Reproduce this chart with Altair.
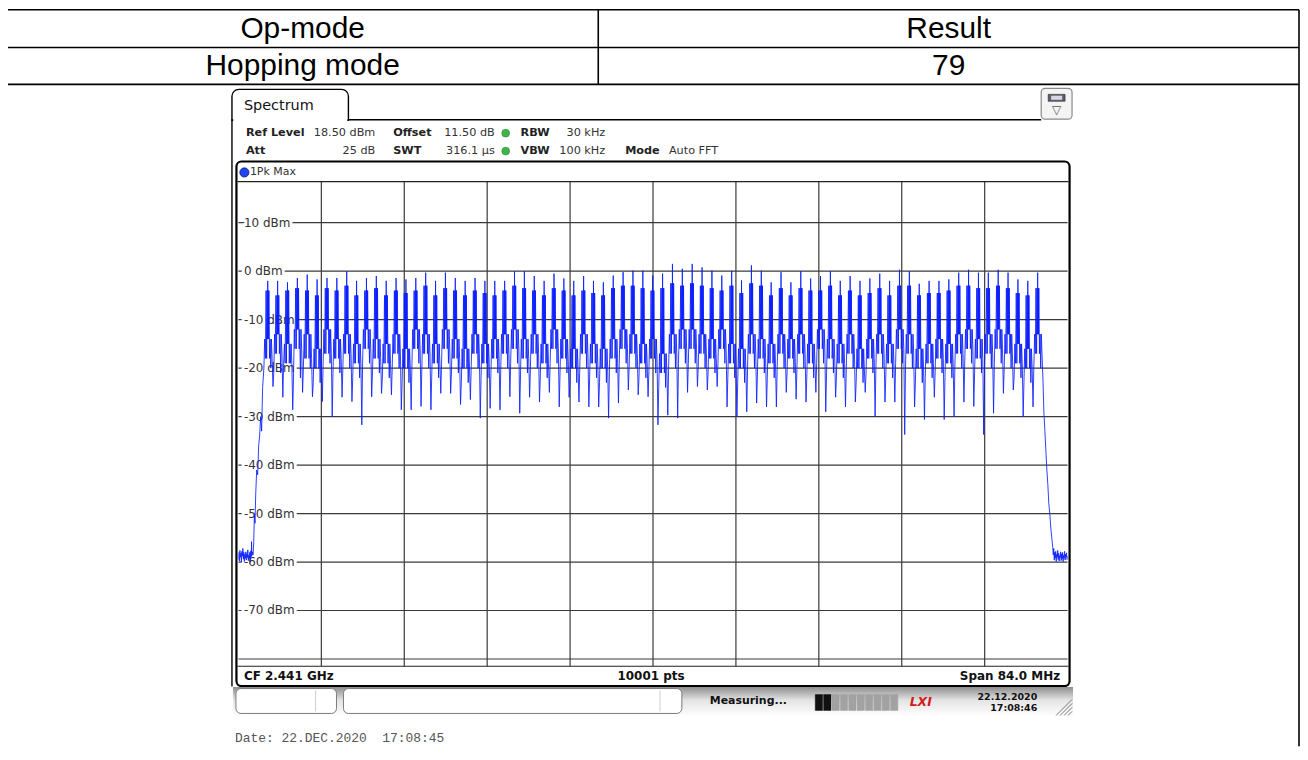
import altair as alt
import pandas as pd

# ------------------------------------------------------------------ data
table_cells = [["Op-mode", "Result"], ["Hopping mode", "79"]]

f_start_mhz = 2399.0
f_stop_mhz = 2483.0
ref_level_dbm = 18.5
bottom_dbm = -81.5

grid_mhz = [2407.4, 2415.8, 2424.2, 2432.6, 2441.0, 2449.4, 2457.8, 2466.2, 2474.6]
grid_dbm = [10, 0, -10, -20, -30, -40, -50, -60, -70, -80]
label_dbm = [10, 0, -10, -20, -30, -40, -50, -60, -70]
label_txt = ["10 dBm", "0 dBm", "-10 dBm", "-20 dBm", "-30 dBm",
             "-40 dBm", "-50 dBm", "-60 dBm", "-70 dBm"]

channel_mhz = list(range(2402, 2481))  # 79 hopping channels

peak_dbm = ([-2.0, -2.0, -2.3, -1.4, -0.7, -1.7, -1.4, -1.4, 0.0, -2.0, -1.4, -1.0, -2.0, -1.4,
             -1.7, -1.4, -0.3, -2.0, -0.3, -1.4, -2.0, -1.4, -2.0, -2.0, -2.0, 0.0, 0.0]
            + [-1.0, -2.0, -0.5, -1.5, -2.0, -1.0, -2.0]
            + [-2.3, -0.9, -0.2, 0.1, 0.1, -0.9, -0.5, 1.5, 0.5, 1.5, 0.8, 0.1, -0.9, 0.1,
               -1.9, 1.2, 0.1, -2.3, -0.2, -2.3]
            + [0.0, -1.5, -1.0, 0.0, -2.0, -1.0, -2.0, -1.5, -0.5, -2.0]
            + [0.3, 0.0, -2.6, -2.0, -2.0, -1.7, -0.3, 0.3, -0.3, -0.3, 0.3, -0.3, -1.7, -2.0, -0.3])

hi_dbm = ([-4.0, -5.0, -4.0, -3.5, -4.0, -5.0, -3.5, -4.0, -3.0, -5.0, -4.0, -3.5, -5.0, -4.0,
           -4.5, -4.0, -3.0, -5.0, -3.5, -4.0, -5.0, -4.0, -4.5, -5.0, -4.0, -3.0, -3.5]
          + [-4.0, -5.0, -3.5, -4.0, -5.0, -4.0, -4.5]
          + [-5.0, -3.5, -3.0, -3.0, -3.5, -4.0, -3.5, -2.5, -3.0, -2.5, -3.0, -3.5, -4.0, -3.0,
             -4.5, -2.5, -3.0, -5.0, -3.5, -5.0]
          + [-3.5, -4.0, -4.0, -3.0, -5.0, -4.0, -5.0, -4.5, -3.5, -5.0]
          + [-3.0, -3.0, -5.0, -4.5, -4.5, -4.0, -3.0, -3.0, -3.5, -3.5, -3.0, -3.5, -4.5, -5.0, -3.5])

core_lo_dbm = ([-14, -13, -15, -12, -13, -16, -12, -14, -13, -15, -12, -14, -15, -13, -16, -12,
                -13, -15, -12, -14, -16, -13, -15, -14, -13, -12, -14]
               + [-13, -15, -12, -14, -16, -13, -15]
               + [-16, -14, -12, -13, -15, -14, -17, -13, -12, -12, -13, -14, -12, -15, -16, -13,
                  -14, -15, -13, -14]
               + [-13, -15, -12, -14, -15, -13, -16, -14, -13, -15]
               + [-12, -13, -16, -15, -14, -15, -13, -12, -14, -13, -12, -13, -15, -16, -13])

deep_dbm = ([-18, -17, -19, -16, -18, -20, -17, -18, -17, -19, -16, -18, -19, -17, -20, -16,
             -17, -19, -16, -18, -20, -17, -19, -18, -17, -16, -18]
            + [-17, -19, -16, -18, -20, -17, -19]
            + [-20, -18, -16, -17, -19, -18, -21, -17, -16, -16, -17, -18, -16, -19, -20, -17,
               -18, -19, -17, -18]
            + [-17, -19, -16, -18, -19, -17, -20, -18, -17, -19]
            + [-16, -17, -20, -19, -18, -19, -17, -16, -18, -17, -16, -17, -19, -20, -17])

edge_dbm = ([-20, -21, -19, -22, -20, -23, -19, -21, -20, -22, -19, -21, -22, -20, -23, -19,
             -20, -22, -19, -21, -23, -20, -22, -21, -20, -19, -21]
            + [-20, -22, -19, -21, -23, -20, -22]
            + [-23, -21, -19, -20, -22, -21, -24, -20, -19, -19, -20, -21, -19, -22, -23, -20,
               -21, -22, -20, -21]
            + [-20, -22, -19, -21, -22, -20, -23, -21, -20, -22]
            + [-19, -20, -23, -22, -21, -22, -20, -19, -21, -20, -19, -20, -22, -23, -20])

# minimum between channel i-1 and channel i (i = 1 .. 78)
trough_dbm = ([-23.8, -26.0, -28.6, -25.0, -25.9, -26.9, -30.0, -26.0, -26.9, -31.7, -25.9, -25.2,
               -25.5, -28.6, -28.6, -27.9, -28.6, -25.2, -25.2, -27.5, -26.5, -30.3, -28.3, -28.6,
               -25.9, -29.3]
              + [-26.0, -27.0, -25.0, -28.0, -26.0, -27.0, -28.0]
              + [-28.0, -30.3, -27.2, -24.5, -25.5, -25.9, -31.7, -29.7, -30.3, -25.0, -23.8, -24.5,
                 -23.8, -28.0, -30.0, -29.0, -27.2, -28.0, -28.0, -25.0, -26.4]
              + [-27.0, -25.0, -29.0, -26.0, -28.0, -27.0, -25.0, -30.0, -27.0]
              + [-27.0, -33.7, -28.0, -30.6, -26.0, -30.6, -30.0, -27.0, -27.9, -33.7, -29.3, -25.2,
                 -24.5, -30.0, -28.0])

# sub-channel trace shape (offset from channel centre in MHz, which level it reaches)
shape_offset_mhz = [-0.42, -0.34, -0.27, -0.20, -0.14, -0.09, -0.06, -0.03, 0.00, 0.03, 0.06,
                    0.09, 0.15, 0.21, 0.28, 0.34, 0.41]
shape_level = ["E", "L", "D", "H", "D", "H", "L", "P", "L", "H", "L",
               "H", "D", "L", "E", "L", "D"]

noise_left_mhz = [2399.00, 2399.05, 2399.10, 2399.15, 2399.20, 2399.25, 2399.30, 2399.35, 2399.40,
                  2399.45, 2399.50, 2399.55, 2399.60, 2399.65, 2399.70, 2399.75, 2399.80, 2399.85,
                  2399.90, 2399.95, 2400.00, 2400.05, 2400.10, 2400.15, 2400.20, 2400.25, 2400.30,
                  2400.33, 2400.36, 2400.42, 2400.48]
noise_left_dbm = [-59.5, -58.0, -59.8, -57.6, -59.0, -58.2, -60.0, -57.8, -58.8, -57.2, -59.4,
                  -58.0, -59.9, -58.4, -59.2, -57.9, -59.6, -58.3, -59.1, -57.5, -59.7, -58.6,
                  -59.3, -58.0, -59.8, -57.7, -58.9, -55.8, -58.7, -57.9, -58.5]
rise_mhz = [2400.55, 2400.62, 2400.68, 2400.75, 2400.85, 2400.95, 2401.05, 2401.15, 2401.25,
            2401.35, 2401.45]
rise_dbm = [-56.0, -50.0, -52.0, -46.0, -41.0, -42.0, -36.0, -34.0, -30.0, -33.0, -24.0]
fall_mhz = [2480.50, 2480.60, 2480.70, 2480.80, 2480.90, 2481.00, 2481.10, 2481.20, 2481.30,
            2481.40, 2481.50]
fall_dbm = [-22.0, -29.0, -33.0, -37.0, -41.0, -44.0, -48.0, -50.0, -53.0, -55.0, -57.0]
noise_right_mhz = [2481.55, 2481.60, 2481.65, 2481.70, 2481.75, 2481.80, 2481.85, 2481.90,
                   2481.95, 2482.00, 2482.05, 2482.10, 2482.15, 2482.20, 2482.25, 2482.30,
                   2482.35, 2482.40, 2482.45, 2482.50, 2482.55, 2482.60, 2482.65, 2482.70,
                   2482.75, 2482.80, 2482.85, 2482.90, 2482.95, 2483.00]
noise_right_dbm = [-58.5, -57.2, -59.6, -58.0, -59.2, -57.8, -59.9, -58.4, -59.0, -57.6, -59.5,
                   -58.2, -59.8, -58.7, -59.1, -57.9, -59.7, -58.3, -59.4, -58.0, -59.9, -58.6,
                   -59.2, -57.8, -59.6, -58.4, -59.0, -58.1, -59.5, -58.8]

# ------------------------------------------------------------------ trace table
rows = []
for f, v in zip(noise_left_mhz + rise_mhz, noise_left_dbm + rise_dbm):
    rows.append((f, v))
for i, c in enumerate(channel_mhz):
    if i > 0:
        rows.append((c - 0.5, trough_dbm[i - 1]))
    lv = {"P": peak_dbm[i], "H": hi_dbm[i], "L": core_lo_dbm[i], "D": deep_dbm[i],
          "E": edge_dbm[i]}
    for off, key in zip(shape_offset_mhz, shape_level):
        rows.append((c + off, lv[key]))
for f, v in zip(fall_mhz + noise_right_mhz, fall_dbm + noise_right_dbm):
    rows.append((f, v))
trace = pd.DataFrame(rows, columns=["f", "dbm"])
trace["i"] = range(len(trace))

# ------------------------------------------------------------------ layout helpers
W, H = 833, 487            # plot area (graticule)
PX0, PY0 = 239.5, 180.6     # page position of the graticule's top-left corner
ONE = pd.DataFrame({"k": [0]})

xs = alt.Scale(domain=[f_start_mhz, f_stop_mhz], nice=False, zero=False)
ys = alt.Scale(domain=[bottom_dbm, ref_level_dbm], nice=False, zero=False)


def X(v):
    return alt.value(v - PX0)


def Y(v):
    return alt.value(v - PY0)


def txt(s, x, y, size=11, bold=False, align="left", color="#222222", font="DejaVu Sans", **kw):
    return alt.Chart(ONE).mark_text(
        text=s, align=align, baseline="middle", fontSize=size,
        fontWeight="bold" if bold else "normal", color=color, font=font, **kw
    ).encode(x=X(x), y=Y(y))


def hline(x1, x2, y, color="black", w=1.0):
    return alt.Chart(ONE).mark_rule(color=color, strokeWidth=w).encode(x=X(x1), x2=X(x2), y=Y(y))


def vline(x, y1, y2, color="black", w=1.0):
    return alt.Chart(ONE).mark_rule(color=color, strokeWidth=w).encode(x=X(x), y=Y(y1), y2=Y(y2))


def box(x1, x2, y1, y2, fill="white", stroke="black", w=1.0, **kw):
    return alt.Chart(ONE).mark_rect(fill=fill, stroke=stroke, strokeWidth=w, **kw).encode(
        x=X(x1), x2=X(x2), y=Y(y1), y2=Y(y2))


layers = []

# ---- table
layers += [
    hline(7, 1305, 8, w=1.6), hline(7, 1305, 46, w=1.6), hline(7, 1305, 83, w=1.6),
    vline(7, 8, 748, w=1.6), vline(1305, 8, 748, w=1.6), vline(601, 8, 83, w=1.6),
    txt(table_cells[0][0], 304, 27, size=30, font="Liberation Sans", color="black", align="center"),
    txt(table_cells[0][1], 953, 27, size=30, font="Liberation Sans", color="black", align="center"),
    txt(table_cells[1][0], 304, 64.5, size=30, font="Liberation Sans", color="black", align="center"),
    txt(table_cells[1][1], 953, 64.5, size=30, font="Liberation Sans", color="black", align="center"),
]

# ---- instrument window: tab, header
layers += [
    box(233, 350, 88, 119, fill="white", stroke="black", w=1.4,
        cornerRadiusTopLeft=7, cornerRadiusTopRight=7),
    hline(234.3, 349, 119, color="white", w=3),
    hline(349.3, 1046, 118.5, w=1.4),
    vline(233, 118, 688, w=1.4),
    txt("Spectrum", 245, 105, size=14.5, color="#111111"),
    box(1046, 1077, 87, 118, fill="#f4f4f4", stroke="#8a8a8a", w=1.2, cornerRadius=4),
    box(1053, 1070, 93, 100, fill="#5a5a6a", stroke="#333333", w=0.6),
    box(1056, 1067, 94.5, 98.5, fill="#d8d8e4", stroke="#d8d8e4", w=0.2),
    txt("\u25bd", 1061.5, 108.5, size=12, align="center", color="#555555"),
    txt("Ref Level", 247, 132, size=11.3, bold=True),
    txt("18.50 dBm", 377, 132, size=11.3, align="right", color="#333333"),
    txt("Offset", 395, 132, size=11.3, bold=True),
    txt("11.50 dB", 497, 132, size=11.3, align="right", color="#333333"),
    txt("RBW", 523, 132, size=11.3, bold=True),
    txt("30 kHz", 608, 132, size=11.3, align="right", color="#333333"),
    txt("Att", 247, 150, size=11.3, bold=True),
    txt("25 dB", 377, 150, size=11.3, align="right", color="#333333"),
    txt("SWT", 395, 150, size=11.3, bold=True),
    txt("316.1 \u00b5s", 497, 150, size=11.3, align="right", color="#333333"),
    txt("VBW", 523, 150, size=11.3, bold=True),
    txt("100 kHz", 608, 150, size=11.3, align="right", color="#333333"),
    txt("Mode", 628, 150, size=11.3, bold=True),
    txt("Auto FFT", 672, 150, size=11.3, color="#333333"),
]
for yy in (132, 150):
    layers.append(alt.Chart(ONE).mark_circle(size=62, color="#3db54a", opacity=1,
                                             stroke="#2a8a35", strokeWidth=0.6)
                  .encode(x=X(508), y=Y(yy)))

# ---- graticule frame + header row
layers += [
    box(237.5, 1074.5, 160.5, 687.5, fill="white", stroke="black", w=2.2, cornerRadius=5),
    alt.Chart(ONE).mark_circle(size=85, color="#2244ee", opacity=1, stroke="#0a1a80",
                               strokeWidth=0.8).encode(x=X(245.5), y=Y(171.5)),
    txt("1Pk Max", 251, 171.5, size=11, color="#333333"),
]

# ---- grid (through the scales)
layers += [
    alt.Chart(pd.DataFrame({"f": grid_mhz})).mark_rule(color="#3a3a3a", strokeWidth=1.2)
    .encode(x=alt.X("f:Q", scale=xs, axis=None)),
    alt.Chart(pd.DataFrame({"lvl": grid_dbm})).mark_rule(color="#3a3a3a", strokeWidth=1.2)
    .encode(y=alt.Y("lvl:Q", scale=ys, axis=None)),
    hline(238.5, 1073.5, 180.8, color="#222222", w=1.3),
    hline(238.5, 1073.5, 667.6, color="#222222", w=1.2),
]
lab = pd.DataFrame({"lvl": label_dbm, "t": label_txt})
layers += [
    alt.Chart(lab).mark_text(align="left", baseline="middle", fontSize=12, font="DejaVu Sans",
                             color="white", stroke="white", strokeWidth=6, strokeJoin="round")
    .encode(x=alt.value(5.5), y=alt.Y("lvl:Q", scale=ys, axis=None), text="t:N"),
    alt.Chart(lab).mark_text(align="left", baseline="middle", fontSize=12, font="DejaVu Sans",
                             color="#333333")
    .encode(x=alt.value(5.5), y=alt.Y("lvl:Q", scale=ys, axis=None), text="t:N"),
]

# ---- trace
layers.append(
    alt.Chart(trace).mark_line(color="#0a1eff", strokeWidth=0.85, clip=True)
    .encode(x=alt.X("f:Q", scale=xs, axis=None), y=alt.Y("dbm:Q", scale=ys, axis=None),
            order="i:Q")
)

# ---- bottom info bar
layers += [
    txt("CF 2.441 GHz", 245, 677, size=12, bold=True, color="#111111"),
    txt("10001 pts", 654, 677, size=12, bold=True, align="center", color="#111111"),
    txt("Span 84.0 MHz", 1065, 677, size=12, bold=True, align="right", color="#111111"),
]

# ---- status bar
status_fill = alt.Gradient(gradient="linear", x1=0, x2=0, y1=0, y2=1,
                           stops=[alt.GradientStop(offset=0, color="#8e8e8e"),
                                  alt.GradientStop(offset=0.45, color="#e4e4e4"),
                                  alt.GradientStop(offset=1, color="#ffffff")])
layers += [
    alt.Chart(ONE).mark_rect(fill=status_fill).encode(x=X(234), x2=X(1078), y=Y(688.5), y2=Y(718)),
    box(237, 338, 690, 715, fill="white", stroke="#7a7a7a", w=1.0, cornerRadius=5),
    vline(317, 692, 713, color="#cfcfcf"),
    box(345, 685, 690, 715, fill="white", stroke="#7a7a7a", w=1.0, cornerRadius=5),
    vline(663, 692, 713, color="#cfcfcf"),
    txt("Measuring...", 713, 703, size=11, bold=True, color="#111111"),
]
seg_w = 8.4
for k in range(10):
    x1 = 819 + k * seg_w
    layers.append(box(x1, x1 + seg_w - 1, 696, 712,
                      fill="#111111" if k < 2 else "#a2a2a2",
                      stroke="#111111" if k < 2 else "#a2a2a2", w=0.5))
layers += [
    txt("LXI", 925, 704, size=12.5, bold=True, align="center", color="#d41a1a",
        fontStyle="italic"),
    txt("22.12.2020", 1042, 698, size=9.5, bold=True, align="right", color="#111111"),
    txt("17:08:46", 1042, 710, size=9.5, bold=True, align="right", color="#111111"),
]
for (x1, y1, x2, y2) in [(1061, 717, 1077, 701), (1065, 717, 1077, 705),
                         (1069, 717, 1077, 709), (1073, 717, 1077, 713)]:
    layers.append(alt.Chart(ONE).mark_rule(color="#777777", strokeWidth=1)
                  .encode(x=X(x1), y=Y(y1), x2=X(x2), y2=Y(y2)))

# ---- date stamp
layers.append(txt("Date: 22.DEC.2020\u00a0 17:08:45", 236, 740, size=13, font="Liberation Mono",
                  color="#555555"))

TOTAL_W, TOTAL_H = 1298, 740
chart = alt.layer(*layers).properties(
    width=W, height=H,
    autosize=alt.AutoSizeParams(type="none"),
    padding={"left": PX0 - 8, "top": PY0 - 8,
             "right": TOTAL_W - (PX0 - 8) - W, "bottom": TOTAL_H - (PY0 - 8) - H},
    background="white",
).configure_view(stroke=None)

chart.save("out.html", embed_options={"renderer": "svg", "actions": False})
